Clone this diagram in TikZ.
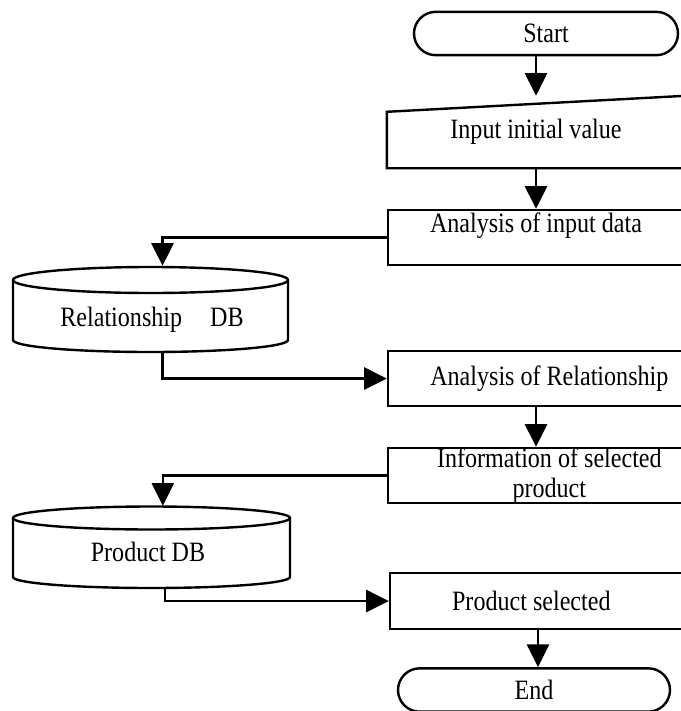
\documentclass[tikz,border=0pt]{standalone}
\usepackage{fontspec}
\setmainfont{Liberation Serif}[FakeStretch=0.86]
\usetikzlibrary{arrows.meta,calc,shapes.misc}

\tikzset{every picture/.style={line width=1.8pt}}
\tikzset{
  flowbox/.style={draw, rectangle, inner sep=0pt, minimum width=222pt, minimum height=41.25pt, align=center},
  inbox/.style={rectangle, inner sep=0pt, minimum width=222pt, minimum height=52.5pt},
  termbox/.style={draw, rounded rectangle, inner sep=0pt, minimum height=32.5pt},
  dbbox/.style={rectangle, inner sep=0pt},
  flowarr/.style={-{Triangle[length=17pt,width=16.5pt]}},
  every node/.style={font=\fontsize{21}{23}\selectfont}
}

\begin{document}
\begin{tikzpicture}[x=0.75pt,y=0.75pt,yscale=-1,xscale=1]
\useasboundingbox (0,0) rectangle (681,711);
\clip (0,0) rectangle (681,711);

%Terminal: Start
\node [termbox, minimum width=198pt] (start) at (546,33.5) {Start};
%Manual input: initial value
\node [inbox] (inp) at (536,132) {Input initial value};
\draw (inp.south west) -- ($(inp.north west)+(0,16)$) -- (inp.north east) -- (inp.south east) -- cycle ;
%Process: analysis of input
\node [flowbox, label={[anchor=north,inner sep=2pt]north:Analysis of input data}] (anaIn) at (536,237.5) {};

%Database: relationship
\node [dbbox, minimum width=206.25pt, minimum height=63.75pt] (rdb) at (150.5,309.5) {};
\draw (150.5,280) ellipse [x radius=137.5, y radius=13] ;
\draw (13,280) -- (13,340) arc [start angle=180, end angle=0, x radius=137.5, y radius=12] -- (288,280) ;
% Text Node
\node at ($(rdb.center)+(1.5,10.5)$) {Relationship\quad DB};

%Process: analysis of relationship
\node [flowbox] (anaRel) at (536,378.5) {\hspace*{20pt}Analysis of Relationship};
%Process: selected product info
\node [flowbox] (info) at (536,475.5) {\hspace*{20pt}Information of selected\\[-1pt]\hspace*{20pt}product};

%Database: product
\node [dbbox, minimum width=207.75pt, minimum height=60.75pt] (pdb) at (151.5,547.5) {};
\draw (151.5,518) ellipse [x radius=138.5, y radius=11.5] ;
\draw (13,518) -- (13,577) arc [start angle=180, end angle=0, x radius=138.5, y radius=11] -- (290,518) ;
% Text Node
\node at ($(pdb.center)+(-3.5,4.5)$) {Product DB};

%Process: product selected
\node [flowbox, minimum height=42pt] (prodSel) at (538,601) {\hspace*{-10pt}Product selected};
%Terminal: End
\node [termbox, minimum width=204pt] (end) at (534,690) {End};

%Connectors
\draw [flowarr] (start.south -| inp.center) -- (inp.north) ;
\draw [flowarr] (inp.south) -- (anaIn.north) ;
\draw [flowarr] (anaIn.west) -| ([xshift=9pt]rdb.north) ;
\draw [flowarr] ([xshift=9pt]rdb.south) |- (anaRel.west) ;
\draw [flowarr] (anaRel.south) -- (info.north) ;
\draw [flowarr] (info.west) -| ([xshift=8.5pt]pdb.north) ;
\draw [flowarr] ([xshift=10pt]pdb.south) |- (prodSel.west) ;
\draw [flowarr] (prodSel.south) -- (prodSel.south |- end.north) ;

\end{tikzpicture}
\end{document}
